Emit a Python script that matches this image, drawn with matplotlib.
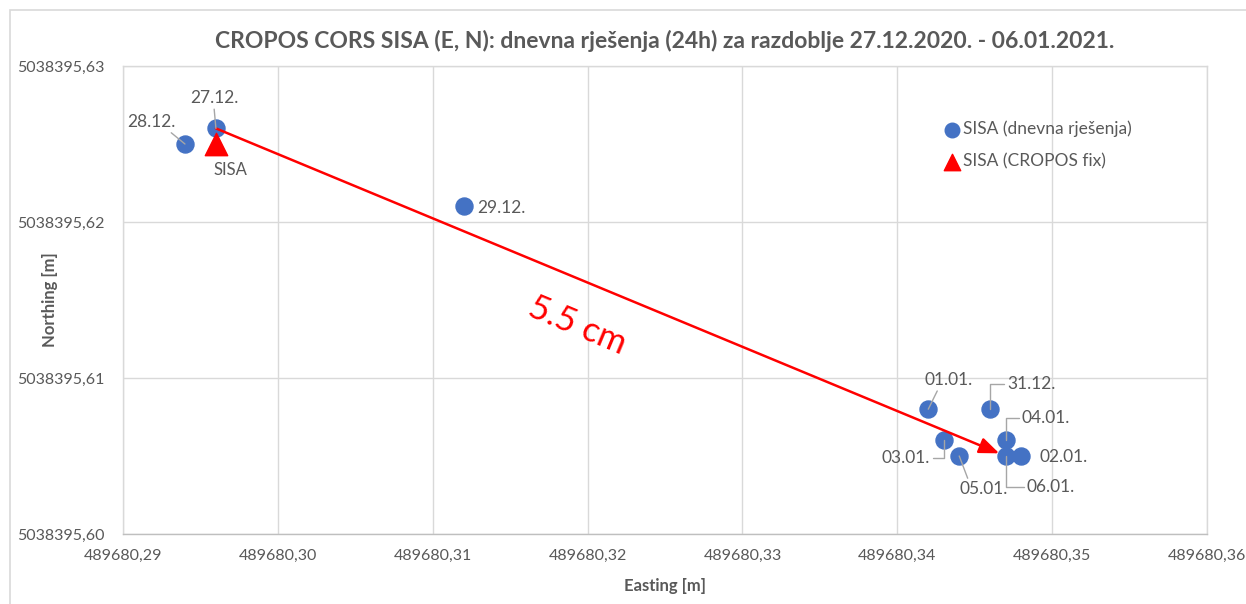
import matplotlib.pyplot as plt
import matplotlib.patches as patches
from matplotlib.ticker import FuncFormatter, FixedLocator

plt.rcParams['font.family'] = ['Lato', 'DejaVu Sans']

# daily solutions
dates = ['27.12.', '28.12.', '29.12.', '31.12.', '01.01.',
         '02.01.', '03.01.', '04.01.', '05.01.', '06.01.']
easting = [489680.296, 489680.294, 489680.312, 489680.346, 489680.342,
           489680.348, 489680.343, 489680.347, 489680.344, 489680.347]
northing = [5038395.626, 5038395.625, 5038395.621, 5038395.608, 5038395.608,
            5038395.605, 5038395.606, 5038395.606, 5038395.605, 5038395.605]

# CROPOS fixed coordinate
fix_e = [489680.296]
fix_n = [5038395.625]
fix_name = 'SISA'

shift_text = '5.5 cm'

x_ticks = [489680.29, 489680.30, 489680.31, 489680.32,
           489680.33, 489680.34, 489680.35, 489680.36]
y_ticks = [5038395.60, 5038395.61, 5038395.62, 5038395.63]

BLUE = '#4472C4'
RED = '#FF0000'
GREY = '#595959'
GRID = '#d9d9d9'

fig = plt.figure(figsize=(12.46, 6.04), dpi=100)
ax = fig.add_axes([123 / 1246, 1 - 534 / 604, (1207 - 123) / 1246, (534 - 66) / 604])

# outer chart border
fig.patches.append(patches.Rectangle((10 / 1246, -0.1), 1.2, (604 - 10) / 604 + 0.1,
                                     transform=fig.transFigure, fill=False,
                                     edgecolor=GRID, lw=1.2, zorder=0))

ax.scatter(easting, northing, s=150, color=BLUE, zorder=3,
           label='SISA (dnevna rješenja)')
ax.scatter(fix_e, fix_n, s=260, marker='^', color=RED, zorder=4,
           label='SISA (CROPOS fix)')

# label offsets in pixels, relpos for leader line, connection style (None = no line)
lbl = {
    '27.12.': ((-2, 30), (0.5, 0), 'arc3'),
    '28.12.': ((-34, 22), (0.85, 0), 'arc3'),
    '29.12.': ((38, -2), None, None),
    '31.12.': ((41, 25), (0, 0.5), 'angle,angleA=0,angleB=90,rad=0'),
    '01.01.': ((20, 29), (0.3, 0), 'arc3'),
    '02.01.': ((42, -1), None, None),
    '03.01.': ((-38, -18), (1, 0.5), 'angle,angleA=0,angleB=90,rad=0'),
    '04.01.': ((40, 22), (0, 0.5), 'angle,angleA=0,angleB=90,rad=0'),
    '05.01.': ((24, -33), (0.2, 1), 'arc3'),
    '06.01.': ((45, -31), (0, 0.5), 'angle,angleA=0,angleB=90,rad=0'),
}
for d, e, n in zip(dates, easting, northing):
    off, rel, cs = lbl[d]
    kw = {}
    if rel is not None:
        kw['arrowprops'] = dict(arrowstyle='-', color='#a6a6a6', lw=1.0,
                                relpos=rel, connectionstyle=cs,
                                shrinkA=0, shrinkB=0)
    ax.annotate(d, (e, n), xytext=off, textcoords='offset pixels',
                ha='center', va='center', fontsize=12.5, color=GREY,
                zorder=6, **kw)

ax.annotate(fix_name, (fix_e[0], fix_n[0]), xytext=(15, -26),
            textcoords='offset pixels', ha='center', va='center',
            fontsize=12, color=GREY)

# shift arrow 27.12. -> 06.01.
ax.annotate('', xy=(easting[-1], northing[-1]), xytext=(easting[0], northing[0]),
            arrowprops=dict(arrowstyle='-|>,head_length=1.0,head_width=0.4',
                            color=RED, lw=1.8, shrinkA=0, shrinkB=5,
                            mutation_scale=12), zorder=5)
mid_e = (easting[0] + easting[-1]) / 2
mid_n = (northing[0] + northing[-1]) / 2
ax.annotate(shift_text, (mid_e, mid_n), xytext=(-33, -33), textcoords='offset pixels',
            ha='center', va='center', fontsize=25, color=RED, rotation=-22.7)

ax.set_xlim(x_ticks[0], x_ticks[-1])
ax.set_ylim(y_ticks[0], y_ticks[-1])
ax.xaxis.set_major_locator(FixedLocator(x_ticks))
ax.yaxis.set_major_locator(FixedLocator(y_ticks))
fmt = FuncFormatter(lambda v, p: f'{v:.2f}'.replace('.', ','))
ax.xaxis.set_major_formatter(fmt)
ax.yaxis.set_major_formatter(fmt)
ax.tick_params(length=0, labelsize=11.5, labelcolor=GREY)
ax.tick_params(axis='x', pad=11)
ax.tick_params(axis='y', pad=13)
ax.grid(True, color=GRID, lw=1.0)
ax.set_axisbelow(True)
for s in ax.spines.values():
    s.set_color(GRID)
    s.set_linewidth(1.0)
ax.spines['bottom'].set_color('#bfbfbf')

ax.set_xlabel('Easting [m]', fontsize=12, fontweight='bold', color=GREY)
ax.xaxis.set_label_coords(0.5, -(578 - 534) / 468)
ax.set_ylabel('Northing [m]', fontsize=12, fontweight='bold', color=GREY)
ax.yaxis.set_label_coords(-(123 - 58) / 1084, 0.5)
ax.set_title('CROPOS CORS SISA (E, N): dnevna rješenja (24h) za razdoblje 27.12.2020. - 06.01.2021.',
             fontsize=16.5, fontweight='bold', color=GREY, pad=13)

leg = ax.legend(loc='upper left', bbox_to_anchor=(935 / 1246, 1 - 112 / 604),
                bbox_transform=fig.transFigure, frameon=False, fontsize=12.5,
                handletextpad=0.1, labelspacing=0.95, markerscale=1.0,
                handlelength=1.0, borderpad=0)
leg.legend_handles[0].set_sizes([110])
leg.legend_handles[1].set_sizes([140])
for t in leg.get_texts():
    t.set_color(GREY)

fig.savefig('out.png', dpi=100)
